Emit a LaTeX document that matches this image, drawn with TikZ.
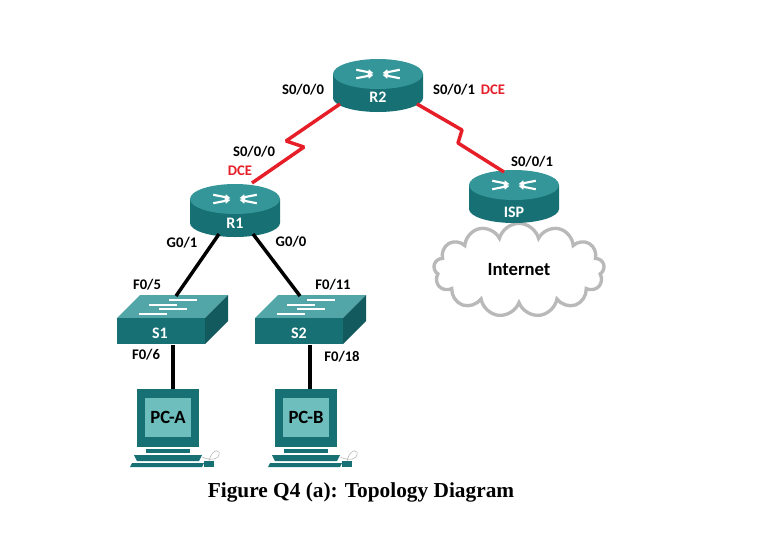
\documentclass[tikz,border=0pt]{standalone}
\usepackage{fontspec}
\setmainfont{Liberation Serif}
\newfontfamily\lblfont{Carlito}
\usetikzlibrary{shapes.symbols,arrows.meta}
\definecolor{tealtop}{RGB}{52,150,152}
\definecolor{tealside}{RGB}{22,112,116}
\definecolor{tealscreen}{RGB}{110,190,190}
\definecolor{dcered}{RGB}{230,30,40}
\tikzset{
  port/.style={font=\lblfont\bfseries\fontsize{11}{13}\selectfont},
  dce/.style={port,text=dcered},
  devlabel/.style={font=\lblfont\bfseries\fontsize{12}{14}\selectfont,text=white},
  pclabel/.style={font=\lblfont\bfseries\fontsize{14}{16}\selectfont},
  eth/.style={line width=2.6pt},
  serial/.style={line width=2.6pt,dcered,line join=bevel},
  router/.pic={
    \fill[tealside] (-45,0) -- (-45,24) arc[start angle=180,end angle=0,x radius=45,y radius=14] -- (45,0) -- cycle;
    \fill[tealtop] (0,0) ellipse[x radius=45,y radius=15];
    \foreach \a in {25,155,205,335}
      \draw[white,line width=1.6pt,-{Triangle[length=4pt,width=4pt]}] (\a:24 and 10) -- (\a:5 and 2);
    \coordinate (-n) at (0,-12);
    \coordinate (-s) at (0,36);
  },
  switch/.pic={
    \fill[tealtop!85!white] (-44,-13) -- (-21,-36) -- (67,-36) -- (44,-13) -- cycle;
    \fill[tealside!80!black] (44,-13) -- (67,-36) -- (67,-10) -- (44,13) -- cycle;
    \fill[tealside] (-44,-13) rectangle (44,13);
    \foreach \y/\x in {-31/20,-26/0,-22/10,-17/-10}
      \draw[white,line width=1.3pt] (\x-12,\y) -- ++(28,0);
  },
  pc/.pic={
    \fill[tealside] (-31,-28) rectangle (31,30);
    \fill[tealscreen] (-23,-19) rectangle (23,20);
    \fill[tealside] (-22,32) rectangle (22,36);
    \fill[tealside] (-34,38) -- (34,38) -- (31,44) -- (-31,44) -- cycle;
    \fill[tealside] (-36,46) -- (36,46) -- (34,50) -- (-38,50) -- cycle;
    \fill[tealside] (36,44) rectangle (46,50);
    \draw[gray!60,thin] (41,44) .. controls (44,30) and (55,32) .. (50,40) .. controls (46,44) and (38,42) .. (34,40);
  }
}
\begin{document}
\begin{tikzpicture}[x=0.75pt,y=-0.75pt]
  \useasboundingbox (0,0) rectangle (766,540);
  % cloud behind ISP
  \node[cloud,cloud puffs=13,aspect=2,draw=gray!55,line width=2.5pt,fill=white,
        minimum width=128pt,minimum height=70pt,font=\lblfont\bfseries\fontsize{14}{16}\selectfont] (net) at (519,270) {Internet};
  % devices
  \pic (R2) at (378,74) {router};
  \pic (R1) at (235,199) {router};
  \pic (ISP) at (514,185) {router};
  \pic (S1) at (161,331) {switch};
  \pic (S2) at (299,331) {switch};
  \pic (PCA) at (168,417) {pc};
  \pic (PCB) at (306,417) {pc};
  \node[devlabel] (r2) at (378,97) {R2};
  \node[devlabel] (r1) at (235,223) {R1};
  \node[devlabel] (isp) at (514,212) {ISP};
  \node[devlabel] (s1) at (160,333) {S1};
  \node[devlabel] (s2) at (299,333) {S2};
  \node[pclabel] (pca) at (168,417) {PC-A};
  \node[pclabel] (pcb) at (306,417) {PC-B};
  % links
  \coordinate (k1) at (304,147);
  \coordinate (k2) at (286,141);
  \coordinate (k3) at (458,143);
  \coordinate (k4) at (462,130);
  \draw[serial] (252,183) -- (k1) -- (k2) -- (340,104);
  \draw[serial] (417,104) -- (k4) -- (k3) -- (504,172);
  \draw[eth] (219,234) -- (176,296);
  \draw[eth] (253,234) -- (300,296);
  \draw[eth] (173,345) -- (173,389);
  \draw[eth] (310,345) -- (310,389);
  % port labels
  \node[port] (p1) at (303,90) {S0/0/0};
  \node[port] (p2) at (454,90) {S0/0/1};
  \node[dce] (p3) at (493,90) {DCE};
  \node[port] (p4) at (254,152) {S0/0/0};
  \node[dce] (p5) at (240,171) {DCE};
  \node[port] (p6) at (532,162) {S0/0/1};
  \node[port] (p7) at (182,243) {G0/1};
  \node[port] (p8) at (291,242) {G0/0};
  \node[port] (p9) at (147,285) {F0/5};
  \node[port] (p10) at (333,285) {F0/11};
  \node[port] (p11) at (146,355) {F0/6};
  \node[port] (p12) at (342,357) {F0/18};
  \node[font=\bfseries\fontsize{16}{19}\selectfont] (cap) at (361,492) {Figure Q4 (a): Topology Diagram};
\end{tikzpicture}
\end{document}
